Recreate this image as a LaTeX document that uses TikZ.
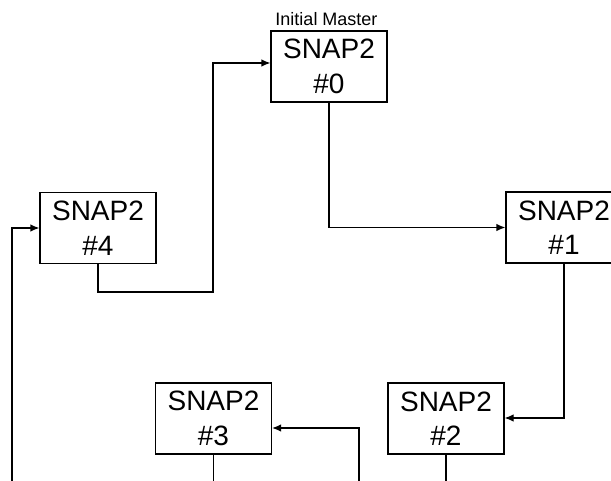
\documentclass[tikz,border=0pt]{standalone}
\usepackage{fontspec}
\setmainfont{Liberation Sans}
\usetikzlibrary{arrows.meta}
\begin{document}
\begin{tikzpicture}[x=1pt,y=-1pt,
  snapbox/.style={draw, line width=1.2pt, minimum width=116pt, minimum height=71pt,
    inner sep=0pt, align=center, font=\fontsize{28}{34.5}\selectfont},
  link/.style={line width=1.2pt, -{Latex[length=9pt,width=7.5pt]}},
  wire/.style={line width=1.2pt}]
  \useasboundingbox (0,0) rectangle (611,481);

  % the five nodes of the ring
  \node[snapbox] (n0) at (329,66.5) {SNAP2\\\#0};
  \node[snapbox] (n1) at (564,227.5) {SNAP2\\\#1};
  \node[snapbox] (n2) at (446,418.5) {SNAP2\\\#2};
  \node[snapbox] (n3) at (213.5,418.5) {SNAP2\\\#3};
  \node[snapbox] (n4) at (98,228) {SNAP2\\\#4};
  \node[font=\fontsize{18}{21}\selectfont] (lbl) at (326.5,19) {Initial Master};

  % loose ends running off the lower edge
  \coordinate (e2) at (446,481);
  \coordinate (e3) at (213.5,481);
  \coordinate (f3) at (359,481);
  \coordinate (f4) at (12,481);

  % connectors
  \draw[link] (n4.south) |- (213,292) |- ([yshift=3.5pt]n0.west);
  \draw[link] (n0.south) |- (n1.west);
  \draw[link] (n1.south) |- ([yshift=0.5pt]n2.east);
  \draw[wire] (n2.south) -- (e2);
  \draw[link] (f3) |- ([yshift=-9.5pt]n3.east);
  \draw[wire] (n3.south) -- (e3);
  \draw[link] (f4) |- (n4.west);
\end{tikzpicture}
\end{document}
